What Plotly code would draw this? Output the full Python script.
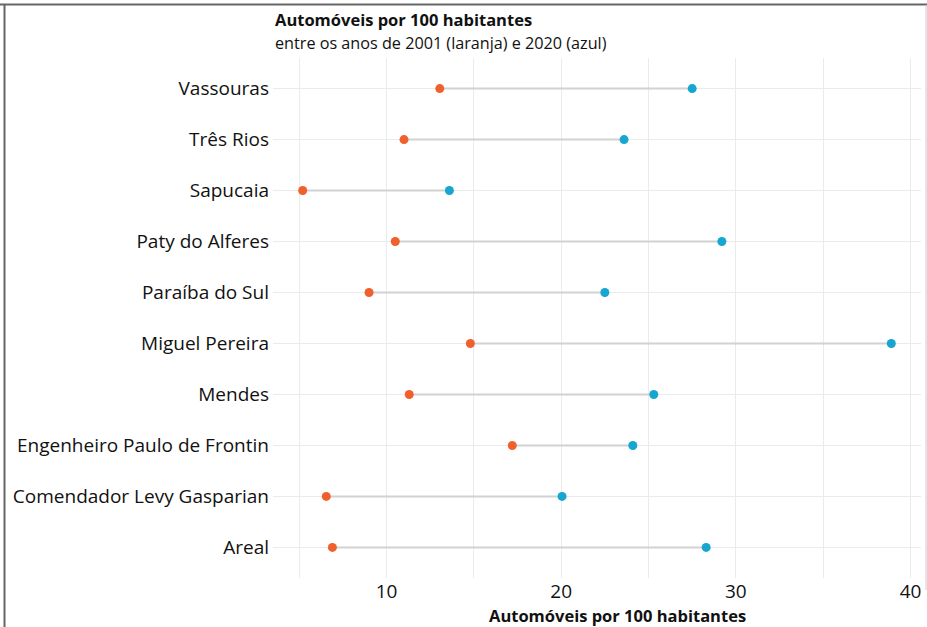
import plotly.graph_objects as go

municipios = ["Areal", "Comendador Levy Gasparian", "Engenheiro Paulo de Frontin", "Mendes",
              "Miguel Pereira", "Paraíba do Sul", "Paty do Alferes", "Sapucaia", "Três Rios", "Vassouras"]
ano_2001 = [6.9, 6.55, 17.2, 11.3, 14.8, 9.0, 10.5, 5.2, 11.0, 13.05]
ano_2020 = [28.3, 20.05, 24.1, 25.3, 38.9, 22.5, 29.2, 13.6, 23.6, 27.5]
x_ticks = [10, 20, 30, 40]

ORANGE = "#F0602C"
BLUE = "#17A6CF"
FONT = "Open Sans"

L, R, T, B = 273, 921, 58, 578
PW, PH = R - L, B - T

seg_x, seg_y = [], []
for m, a, b in zip(municipios, ano_2001, ano_2020):
    seg_x += [a, b, None]
    seg_y += [m, m, None]

fig = go.Figure()
fig.add_trace(go.Scatter(x=seg_x, y=seg_y, mode="lines",
                         line=dict(color="#d2d2d2", width=2), hoverinfo="skip", showlegend=False))
fig.add_trace(go.Scatter(x=ano_2001, y=municipios, mode="markers", name="2001",
                         marker=dict(color=ORANGE, size=9), showlegend=False))
fig.add_trace(go.Scatter(x=ano_2020, y=municipios, mode="markers", name="2020",
                         marker=dict(color=BLUE, size=9), showlegend=False))

fig.update_layout(
    width=927, height=627,
    margin=dict(l=L, r=927 - R, t=T, b=627 - B),
    paper_bgcolor="white", plot_bgcolor="white",
    font=dict(family=FONT, color="#222222"),
    xaxis=dict(range=[3.5, 40.6], tickvals=x_ticks, ticktext=[str(v) for v in x_ticks],
               showgrid=True, gridcolor="#ebebeb", gridwidth=1,
               minor=dict(dtick=5, tick0=0, showgrid=True, gridcolor="#ebebeb", gridwidth=1),
               zeroline=False, showline=False, ticks="", ticklabelstandoff=0,
               tickfont=dict(size=19, color="#111111", family=FONT)),
    yaxis=dict(categoryorder="array", categoryarray=municipios, range=[-0.6, 9.6],
               showgrid=True, gridcolor="#ebebeb", gridwidth=1, zeroline=False,
               showline=False, ticks="", ticklabelstandoff=3,
               tickfont=dict(size=19, color="#111111", family=FONT)),
    annotations=[
        dict(text="<b>Automóveis por 100 habitantes</b>", xref="paper", yref="paper",
             x=0, y=1, yshift=T - 19, xanchor="left", yanchor="middle", showarrow=False,
             font=dict(size=16.5, color="#111111", family=FONT)),
        dict(text="entre os anos de 2001 (laranja) e 2020 (azul)", xref="paper", yref="paper",
             x=0, y=1, yshift=T - 43, xanchor="left", yanchor="middle", showarrow=False,
             font=dict(size=16.2, color="#111111", family=FONT)),
        dict(text="<b>Automóveis por 100 habitantes</b>", xref="paper", yref="paper",
             x=(617 - L) / PW, y=0, yshift=-(615 - B), xanchor="center", yanchor="middle",
             showarrow=False, font=dict(size=16.5, color="#111111", family=FONT)),
    ],
    shapes=[
        dict(type="line", xref="paper", yref="paper", x0=(0 - L) / PW, x1=(927 - L) / PW,
             y0=(B - 4.5) / PH, y1=(B - 4.5) / PH, line=dict(color="#666666", width=2)),
        dict(type="line", xref="paper", yref="paper", x0=(4.5 - L) / PW, x1=(4.5 - L) / PW,
             y0=(B - 4) / PH, y1=(B - 627) / PH, line=dict(color="#666666", width=2)),
        dict(type="line", xref="paper", yref="paper", x0=(926 - L) / PW, x1=(926 - L) / PW,
             y0=(B - 5) / PH, y1=(B - 590) / PH, line=dict(color="#cccccc", width=1)),
    ],
)

fig.write_html("out.html", config={"displayModeBar": False},
               post_script="document.body.style.margin='0';")
